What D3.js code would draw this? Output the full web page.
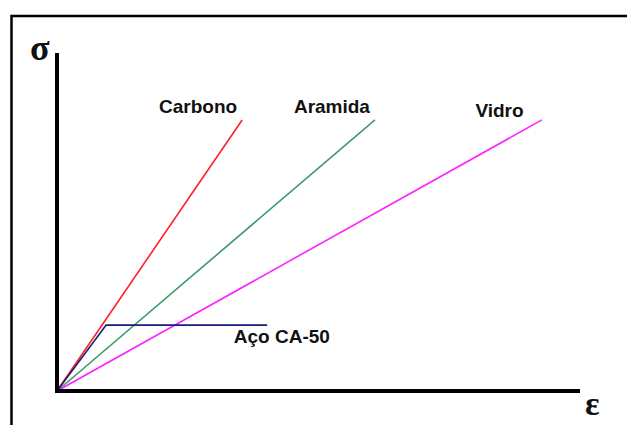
<!DOCTYPE html>
<html>
<head>
<meta charset="utf-8">
<script src="https://cdn.jsdelivr.net/npm/d3@7"></script>
<style>
  body { margin: 0; background: #fff; }
  .mlabel { font-family: "Liberation Sans", Arial, sans-serif; font-weight: bold; font-size: 19px; fill: #111; }
  .axlabel { font-family: "Liberation Serif", "Times New Roman", serif; font-weight: bold; fill: #111; }
</style>
</head>
<body>
<div id="chart"></div>
<script>
// strain (eps) and stress (sigma), arbitrary units 0..100
var materials = ["Carbono", "Aramida", "Vidro", "Aço CA-50"];
var colors = ["#ff2020", "#3a9a6a", "#ff20ff", "#1a1a80"];
var carbonoEps = [0, 35.4], carbonoSig = [0, 80.2];
var aramidaEps = [0, 60.8], aramidaSig = [0, 80.2];
var vidroEps   = [0, 92.7], vidroSig   = [0, 80.2];
var acoEps     = [0, 9.4, 40.2], acoSig = [0, 19.5, 19.5];
// label anchor points (data units) for each curve
var labelEps = [19.5, 45.3, 80.0, 33.8];
var labelSig = [82.2, 82.2, 81.0, 14.3];

const W = 627, H = 425;
const geom = {x0: 57, x1: 580, y0: 391, y1: 53};

var svg = d3.select("#chart")
  .append("svg")
  .attr("width", W)
  .attr("height", H);

// outer frame
svg.append("rect")
  .attr("x", 11.5).attr("y", 16)
  .attr("width", 640).attr("height", 440)
  .attr("fill", "none")
  .attr("stroke", "#000")
  .attr("stroke-width", 2.5);

var x = d3.scaleLinear().domain([0, 100]).range([geom.x0, geom.x1]);
var y = d3.scaleLinear().domain([0, 100]).range([geom.y0, geom.y1]);

var series = [
  {k: materials[0], e: carbonoEps, s: carbonoSig},
  {k: materials[1], e: aramidaEps, s: aramidaSig},
  {k: materials[2], e: vidroEps, s: vidroSig},
  {k: materials[3], e: acoEps, s: acoSig}
];

var line = d3.line()
  .x(function(d) {return x(d[0]);})
  .y(function(d) {return y(d[1]);});

svg.selectAll(".curve").data(series)
  .enter().append("path")
  .attr("class", "curve")
  .attr("fill", "none")
  .attr("stroke", function(d, i) {return colors[i];})
  .attr("stroke-width", 1.6)
  .attr("d", function(d) {return line(d3.zip(d.e, d.s));});

// axes (plain lines, no ticks)
svg.append("line")
  .attr("x1", x(0)).attr("y1", y(0) + 2)
  .attr("x2", x(0)).attr("y2", y(100))
  .attr("stroke", "#000").attr("stroke-width", 4);
svg.append("line")
  .attr("x1", x(0) - 2).attr("y1", y(0))
  .attr("x2", x(100)).attr("y2", y(0))
  .attr("stroke", "#000").attr("stroke-width", 4);

svg.append("text")
  .attr("class", "axlabel")
  .attr("x", 30).attr("y", 60)
  .style("font-size", "36px")
  .text("σ");
svg.append("text")
  .attr("class", "axlabel")
  .attr("x", 585).attr("y", 415)
  .style("font-size", "34px")
  .text("ε");

svg.selectAll(".mlabel").data(series)
  .enter().append("text")
  .attr("class", "mlabel")
  .attr("x", function(d, i) {return x(labelEps[i]);})
  .attr("y", function(d, i) {return y(labelSig[i]);})
  .text(function(d) {return d.k;});
</script>
</body>
</html>
